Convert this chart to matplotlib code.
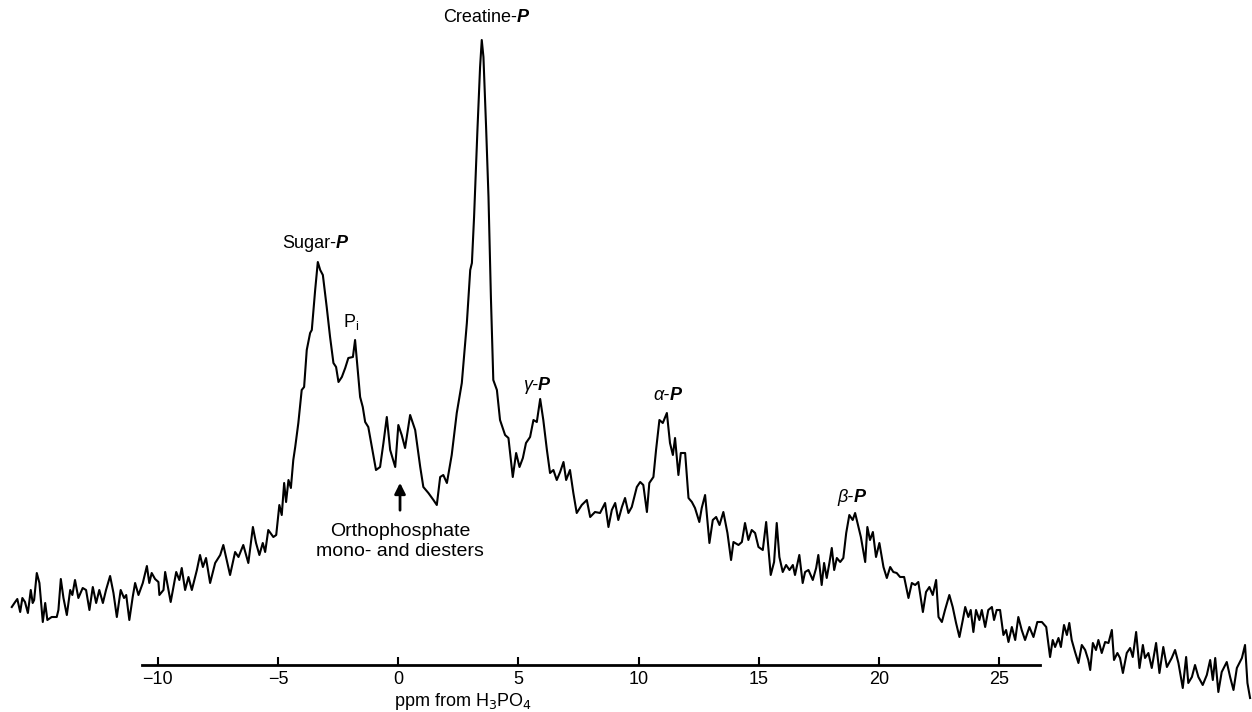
import matplotlib.pyplot as plt

# 31P NMR spectrum (intensity in arbitrary units)
ppm = [-16.07, -15.93, -15.84, -15.72, -15.63, -15.52, -15.40, -15.28, -15.20, -15.14,
       -15.03, -14.92, -14.78, -14.68, -14.59, -14.41, -14.20, -14.13, -14.03, -13.92,
       -13.78, -13.64, -13.55, -13.44, -13.30, -13.12, -12.98, -12.84, -12.70, -12.56,
       -12.43, -12.28, -12.15, -11.98, -11.84, -11.70, -11.54, -11.40, -11.31, -11.18,
       -11.04, -10.94, -10.80, -10.62, -10.45, -10.35, -10.25, -10.11, -9.97, -9.93,
       -9.76, -9.69, -9.46, -9.23, -9.10, -9.00, -8.86, -8.72, -8.58, -8.37,
       -8.24, -8.12, -7.99, -7.82, -7.61, -7.40, -7.27, -7.13, -6.99, -6.78,
       -6.64, -6.44, -6.23, -6.04, -5.91, -5.77, -5.63, -5.53, -5.40, -5.19,
       -5.07, -4.94, -4.84, -4.74, -4.66, -4.56, -4.46, -4.36, -4.28, -4.15,
       -4.01, -3.91, -3.80, -3.66, -3.59, -3.45, -3.34, -3.24, -3.13, -2.97,
       -2.83, -2.69, -2.58, -2.48, -2.34, -2.20, -2.07, -1.88, -1.79, -1.69,
       -1.58, -1.47, -1.37, -1.24, -1.09, -0.92, -0.75, -0.61, -0.47, -0.33,
       -0.12, 0.01, 0.15, 0.29, 0.50, 0.71, 0.92, 1.05, 1.26, 1.47,
       1.61, 1.75, 1.88, 2.03, 2.23, 2.44, 2.65, 2.86, 3.00, 3.07,
       3.16, 3.30, 3.41, 3.48, 3.55, 3.66, 3.76, 3.86, 3.96, 4.11,
       4.24, 4.38, 4.45, 4.59, 4.77, 4.91, 5.05, 5.19, 5.32, 5.49,
       5.63, 5.77, 5.91, 6.04, 6.19, 6.32, 6.46, 6.60, 6.74, 6.88,
       6.99, 7.15, 7.29, 7.43, 7.64, 7.85, 7.99, 8.19, 8.40, 8.61,
       8.75, 8.89, 9.03, 9.16, 9.31, 9.44, 9.58, 9.72, 9.93, 10.07,
       10.20, 10.35, 10.45, 10.62, 10.73, 10.87, 11.01, 11.18, 11.31, 11.43,
       11.52, 11.66, 11.76, 11.94, 12.08, 12.22, 12.35, 12.53, 12.63, 12.77,
       12.95, 13.09, 13.23, 13.37, 13.53, 13.70, 13.85, 13.95, 14.16, 14.30,
       14.43, 14.57, 14.71, 14.85, 14.99, 15.17, 15.31, 15.50, 15.64, 15.75,
       15.86, 16.00, 16.14, 16.28, 16.42, 16.51, 16.69, 16.83, 16.93, 17.07,
       17.25, 17.39, 17.48, 17.62, 17.72, 17.83, 17.94, 18.04, 18.14, 18.25,
       18.39, 18.52, 18.64, 18.77, 18.91, 19.01, 19.15, 19.25, 19.43, 19.52,
       19.63, 19.75, 19.88, 20.02, 20.19, 20.33, 20.47, 20.60, 20.74, 20.88,
       21.05, 21.23, 21.37, 21.51, 21.64, 21.83, 21.96, 22.10, 22.24, 22.38,
       22.48, 22.62, 22.75, 22.93, 23.07, 23.21, 23.35, 23.49, 23.59, 23.72,
       23.82, 23.93, 24.04, 24.18, 24.28, 24.42, 24.55, 24.70, 24.79, 24.90,
       25.04, 25.18, 25.29, 25.39, 25.53, 25.67, 25.80, 25.94, 26.08, 26.26,
       26.43, 26.59, 26.78, 26.96, 27.12, 27.23, 27.33, 27.47, 27.57, 27.70,
       27.82, 27.92, 28.02, 28.16, 28.30, 28.44, 28.58, 28.71, 28.79, 28.90,
       29.03, 29.13, 29.27, 29.41, 29.55, 29.69, 29.78, 29.92, 30.03, 30.15,
       30.31, 30.45, 30.56, 30.70, 30.84, 30.98, 31.07, 31.21, 31.35, 31.53,
       31.67, 31.83, 31.98, 32.18, 32.32, 32.46, 32.64, 32.78, 32.87, 33.02,
       33.15, 33.29, 33.47, 33.64, 33.78, 33.89, 33.99, 34.12, 34.26, 34.47,
       34.61, 34.75, 34.89, 35.10, 35.23, 35.33, 35.44]

intensity = [58, 63, 66, 53, 67, 63, 52, 75, 62, 65,
             92, 82, 43, 62, 45, 48, 48, 55, 86, 67,
             50, 75, 70, 85, 67, 77, 75, 55, 78, 62,
             75, 62, 75, 89, 72, 48, 75, 67, 70, 45,
             68, 82, 70, 82, 99, 82, 92, 86, 83, 70,
             75, 93, 63, 93, 85, 97, 75, 88, 75, 95,
             110, 98, 107, 82, 102, 110, 120, 105, 90, 113,
             108, 120, 102, 138, 122, 110, 122, 113, 135, 128,
             130, 160, 150, 182, 163, 185, 177, 205, 218, 242,
             275, 278, 315, 332, 335, 375, 403, 395, 390, 358,
             328, 302, 298, 283, 288, 297, 307, 308, 325, 298,
             268, 258, 243, 238, 218, 195, 198, 222, 248, 215,
             198, 240, 230, 217, 250, 235, 198, 178, 172, 165,
             160, 188, 190, 182, 210, 252, 282, 342, 395, 402,
             448, 535, 598, 625, 608, 538, 468, 368, 285, 275,
             245, 235, 230, 227, 188, 212, 198, 207, 222, 228,
             245, 243, 266, 245, 215, 192, 195, 185, 193, 203,
             185, 195, 172, 152, 160, 165, 148, 153, 152, 162,
             138, 155, 162, 145, 158, 167, 152, 158, 178, 183,
             180, 153, 182, 188, 215, 245, 242, 252, 222, 210,
             227, 190, 212, 212, 167, 163, 157, 143, 157, 170,
             122, 145, 148, 140, 153, 132, 105, 123, 120, 123,
             142, 125, 135, 132, 118, 115, 143, 90, 103, 142,
             108, 93, 100, 95, 100, 90, 110, 82, 93, 95,
             85, 97, 110, 80, 102, 87, 102, 117, 95, 107,
             103, 107, 132, 150, 145, 152, 138, 128, 103, 138,
             125, 133, 108, 122, 98, 87, 98, 93, 92, 88,
             88, 67, 82, 80, 83, 53, 73, 78, 70, 85,
             48, 43, 55, 70, 58, 42, 28, 45, 58, 48,
             55, 33, 55, 45, 55, 38, 55, 58, 45, 55,
             55, 30, 35, 23, 38, 25, 48, 35, 25, 38,
             28, 43, 43, 38, 8, 25, 18, 27, 18, 40,
             30, 42, 25, 13, 2, 20, 15, 5, -5, 22,
             15, 25, 12, 23, 22, 35, 5, 12, 7, -8,
             12, 17, 8, 33, -3, 20, 7, 12, -3, 22,
             -8, 18, -2, 7, 15, 2, -23, 8, -18, -12,
             0, -12, -20, -10, 5, -15, 7, -27, -7, 3,
             -12, -25, -3, 7, 20, -18, -33]

tick_values = [-10, -5, 0, 5, 10, 15, 20, 25]

plt.rcParams['font.family'] = ['Liberation Sans', 'DejaVu Sans']

fig = plt.figure(figsize=(12.52, 7.12), dpi=100)
ax = fig.add_axes([0, 0, 1, 1])
ax.plot(ppm, intensity, color='black', lw=1.5)

ax.set_xlim(-16.56, 35.52)
ax.set_ylim(-47, 665)

# bare axis line drawn at the baseline
for side in ['left', 'top', 'right']:
    ax.spines[side].set_visible(False)
ax.spines['bottom'].set_position(('data', 0))
ax.spines['bottom'].set_bounds(-10.66, 26.7)
ax.spines['bottom'].set_linewidth(2)
ax.set_yticks([])
ax.set_xticks(tick_values)
ax.tick_params(axis='x', direction='in', length=6, width=1.5, pad=4, labelsize=13)

ax.text(2.7, -37, r'ppm from H$_3$PO$_4$', fontsize=13, ha='center', va='center')


def peak_label(x, y, prefix, italic_prefix=False):
    # prefix in normal text, the "P" in bold italic
    ax.text(x, y, prefix, ha='right', va='center', fontsize=13,
            fontstyle='italic' if italic_prefix else 'normal')
    ax.text(x, y, 'P', ha='left', va='center', fontsize=13,
            fontstyle='italic', fontweight='bold')


peak_label(4.95, 647, 'Creatine-')
peak_label(-2.58, 421, 'Sugar-')
peak_label(5.82, 280, 'γ-', italic_prefix=True)
peak_label(11.29, 270, 'α-', italic_prefix=True)
peak_label(18.94, 167, 'β-', italic_prefix=True)
ax.text(-1.96, 343, r'P$_\mathregular{i}$', ha='center', va='center', fontsize=13)

ax.annotate('', xy=(0.08, 185), xytext=(0.08, 152),
            arrowprops=dict(arrowstyle='-|>', lw=2, color='black', mutation_scale=16))
ax.text(0.08, 133, 'Orthophosphate', ha='center', va='center', fontsize=14)
ax.text(0.08, 113, 'mono- and diesters', ha='center', va='center', fontsize=14)

fig.savefig('out.png', dpi=100)
